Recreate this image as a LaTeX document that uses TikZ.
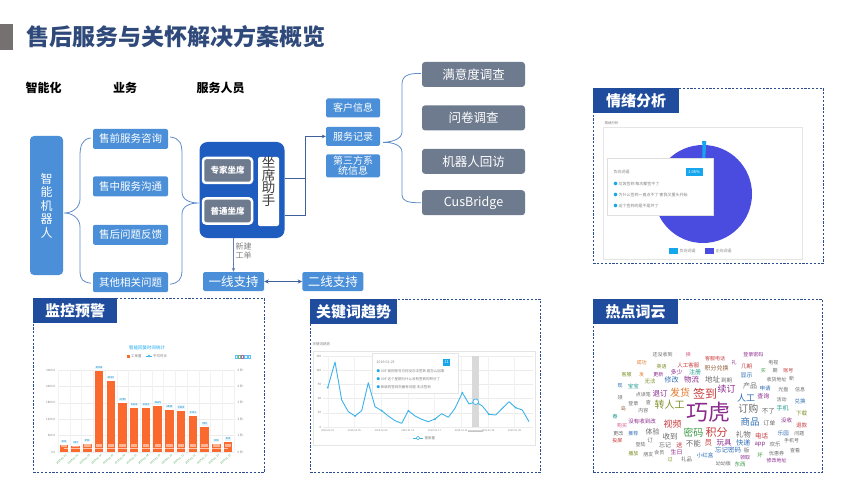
\documentclass[tikz,border=0pt]{standalone}
\usepackage{fontspec}
\setmainfont{Noto Sans CJK SC}
\usetikzlibrary{arrows.meta, positioning, calc}
\definecolor{titleBlue}{HTML}{2F4A7A}
\definecolor{markGray}{HTML}{767171}
\definecolor{bizBlue}{HTML}{4A8FD8}
\definecolor{agentBlue}{HTML}{1F5CC0}
\definecolor{slateGray}{HTML}{6E7A8E}
\definecolor{panelBlue}{HTML}{1F4C9C}
\definecolor{dashBlue}{HTML}{2D4E8E}
\definecolor{linkBlue}{HTML}{3E5F99}
\definecolor{braceBlue}{HTML}{5E8CC9}
\definecolor{barOrange}{HTML}{FA6A2E}
\definecolor{trendCyan}{HTML}{3BB2EA}
\definecolor{tagCyan}{HTML}{16A6EE}
\definecolor{pieBlue}{HTML}{4A4CDF}
\definecolor{axisGreen}{HTML}{2E9E3A}
% word cloud colours
\definecolor{wcPurple}{HTML}{8A2A8C}
\definecolor{wcRed}{HTML}{C8383A}
\definecolor{wcOlive}{HTML}{7D8F27}
\definecolor{wcBlue}{HTML}{2F6DB5}
\definecolor{wcGray}{HTML}{6A6A6A}
\definecolor{wcOrange}{HTML}{E4782A}
\definecolor{wcTeal}{HTML}{1C9A8C}
\definecolor{wcPink}{HTML}{D5568C}
\definecolor{wcBrown}{HTML}{8E5A33}
\definecolor{wcGreen}{HTML}{3C9A45}
\newcommand{\fsz}[1]{\fontsize{#1}{#1}\selectfont}

\begin{document}
\begin{tikzpicture}[
    x=1pt, y=-1pt,
    node distance=10pt,
    hdr/.style={font=\fsz{12}\bfseries, inner sep=0pt},
    robot/.style={fill=bizBlue, rounded corners=4pt, text=white, align=center,
                  font=\fontsize{12}{13.5}\selectfont,
                  minimum width=33pt, minimum height=139pt},
    bizbox/.style={fill=bizBlue, rounded corners=2pt, text=white,
                   font=\fsz{10.5}, inner sep=1pt,
                   minimum width=75pt, minimum height=20pt},
    agent/.style={fill=agentBlue, rounded corners=8pt,
                  minimum width=85pt, minimum height=96pt},
    seat/.style={fill=slateGray, draw=white, line width=2.5pt,
                 rounded corners=3pt, text=white, font=\fsz{8.5}\bfseries,
                 minimum width=49pt, minimum height=25pt, inner sep=0pt},
    asst/.style={fill=white, rounded corners=2pt,
                 minimum width=21pt, minimum height=69pt},
    info/.style={fill=bizBlue, rounded corners=1.5pt, text=white,
                 font=\fontsize{10}{9.5}\selectfont, align=center,
                 minimum width=54pt, minimum height=19pt, inner sep=0.5pt},
    survey/.style={fill=slateGray, rounded corners=3pt, text=white,
                   font=\fsz{12.5}, minimum width=103pt, minimum height=25pt},
    level/.style={fill=bizBlue, rounded corners=1.5pt, text=white,
                  font=\fsz{12.5}, inner sep=1pt,
                  minimum width=61pt, minimum height=19pt},
    brace/.style={draw=braceBlue, line width=0.8pt},
    link/.style={draw=linkBlue, line width=1pt},
    arrowd/.style={-{Stealth[length=4pt,width=3.5pt]}, link},
    panel/.style={draw=dashBlue, line width=0.8pt, dash pattern=on 2.2pt off 1.6pt,
                  anchor=north west, inner sep=0pt},
    ptitle/.style={fill=panelBlue, text=white, font=\fsz{15}\bfseries,
                   anchor=north west, minimum height=25pt, inner sep=2pt},
    tiny/.style={font=\fsz{3.5}, text=gray, inner sep=0.5pt},
    tag/.style={fill=tagCyan, text=white, font=\fsz{4}, inner sep=0.8pt},
    vlabel/.style={font=\fsz{2.8}, text=tagCyan!80!black, fill=tagCyan!12, inner sep=0.6pt},
    word/.style={inner sep=0pt},
]
\useasboundingbox (0,0) rectangle (850,478);

% title
\fill[markGray] (0,24) rectangle (13,50);
\node[anchor=west, inner sep=0pt, text=titleBlue, font=\fsz{23}\bfseries] (title) at (26,37)
  {售后服务与关怀解决方案概览};

% column headers
\node[hdr] (h1) at (43.5,88) {智能化};
\node[hdr] (h2) at (125,88) {业务};
\node[hdr] (h3) at (220.5,88) {服务人员};

% robot and business
\node[robot] (rb) at (46.5,205.5) {智\\能\\机\\器\\人};
\node[bizbox] (bz1) at (130.5,139) {售前服务咨询};
\node[bizbox, below=27pt of bz1] (bz2) {售中服务沟通};
\node[bizbox, below=28pt of bz2] (bz3) {售后问题反馈};
\node[bizbox, below=27pt of bz3] (bz4) {其他相关问题};

% agents
\node[agent] (agent) at (242,190) {};
\node[seat] (s1) at (227.5,170.5) {专家坐席};
\node[seat, below=13pt of s1] (s2) {普通坐席};
\node[asst] (asst) at (268.5,191.5) {};
\node[anchor=north, inner sep=0pt, align=center, text=black!75,
      font=\fontsize{13.5}{12.5}\selectfont] (asstT) at ($(asst.north)+(0,-0.5)$)
  {坐\\席\\助\\手};

% info and surveys
\node[info] (cust) at (353,108) {客户信息};
\node[info, below=9pt of cust] (rec) {服务记录};
\node[info, below=8pt of rec, minimum height=23pt] (third) {第三方系\\统信息};
\node[survey] (sv1) at (473.5,74.5) {满意度调查};
\node[survey, below=18pt of sv1] (sv2) {问卷调查};
\node[survey, below=18pt of sv2] (sv3) {机器人回访};
\node[survey, below=16pt of sv3] (sv4) {CusBridge};

% support levels
\node[level] (l1) at (233.5,281.5) {一线支持};
\node[level, right=38pt of l1] (l2) {二线支持};

% braces
\coordinate (tipA) at ($(rb.east)+(1,7.5)$);
\coordinate (tipB) at ($(agent.west)+(-0.5,13)$);
\coordinate (tipC) at ($(rec.east)+(3,6)$);
\draw[brace] ($(bz1.west)+(-2,-1)$) .. controls (82,139) and (80,146) .. (80,156)
  -- (80,199) .. controls (80,208) and (72,213) .. (tipA)
  .. controls (72,213) and (80,218) .. (80,227)
  -- (80,270) .. controls (80,280) and (83,282) .. ($(bz4.west)+(-2,1)$);
\draw[brace] ($(bz1.east)+(2,-2)$) .. controls (180,138) and (182,144) .. (182,154)
  -- (182,192) .. controls (182,200) and (190,203) .. (tipB)
  .. controls (190,203) and (182,206) .. (182,214)
  -- (182,270) .. controls (182,280) and (178,283) .. ($(bz4.east)+(2,2)$);
\draw[brace] ($(sv1.west)+(-1,-1)$) .. controls (408,73) and (402,76) .. (402,84)
  -- (402,132) .. controls (402,139) and (392,142) .. (tipC)
  .. controls (392,142) and (402,145) .. (402,152)
  -- (402,195) .. controls (402,201) and (408,203) .. ($(sv4.west)+(-1,0)$);

% connectors
\coordinate (jn) at ($(rec.west)+(-20,0)$);
\coordinate (a1) at ($(agent.east)+(0,-11)$);
\coordinate (a2) at ($(agent.east)+(0,26)$);
\draw[link] (a1) -- (a1 -| jn);
\draw[arrowd] (a2) -| (jn) -- (rec.west);
\draw[arrowd, draw=linkBlue!80] (l1.north |- agent.south) -- node[pos=0.38, right=0.5pt,
  font=\fontsize{8}{9}\selectfont, text=gray, align=center, inner sep=1pt] (newT) {新建\\工单} (l1.north);
\draw[{Stealth[length=4.5pt,width=4pt]}-{Stealth[length=4.5pt,width=4pt]}, draw=linkBlue, line width=1.2pt]
  (l1.east) -- (l2.west);

% panels
\node[panel, minimum width=230pt, minimum height=175pt] (pEmo) at (593,88) {};
\node[ptitle, minimum width=86pt] (tEmo) at (pEmo.north west) {情绪分析};
\node[panel, minimum width=231pt, minimum height=174pt] (pMon) at (33,298) {};
\node[ptitle, minimum width=84pt] (tMon) at (pMon.north west) {监控预警};
\node[panel, minimum width=230pt, minimum height=173pt] (pKey) at (310,299) {};
\node[ptitle, minimum width=87pt] (tKey) at (pKey.north west) {关键词趋势};
\node[panel, minimum width=229pt, minimum height=173pt] (pCloud) at (593,299) {};
\node[ptitle, minimum width=85pt] (tCloud) at (pCloud.north west) {热点词云};

% sentiment pie
\draw[gray!20] (603,127) rectangle (802,259);
\node[tiny, anchor=west] (eLab) at (604,123) {情绪分析};
\fill[pieBlue] (703,194) circle (49);
\fill[tagCyan] (703,194) -- (702.2,141) -- (706.3,141.2) -- cycle;
\node[fill=white, draw=gray!25, minimum width=106pt, minimum height=57pt, anchor=north west] (eTip) at (607,158) {};
\node[tiny, anchor=west, font=\fsz{4}] (eT0) at (613,172) {负向词语};
\node[tag, minimum width=17pt, minimum height=8pt] (eTag) at (694,172.5) {1.06\%};
\node[tiny, anchor=west, font=\fsz{4}] (eT1) at (613,184) {\textcolor{tagCyan}{●} 垃圾签到 每次都签不了};
\node[tiny, anchor=west, font=\fsz{4}] (eT2) at (613,195) {\textcolor{tagCyan}{●} 为什么签到一直点不了 害我又重头开始};
\node[tiny, anchor=west, font=\fsz{4}] (eT3) at (613,206) {\textcolor{tagCyan}{●} 这个签到的是不是坏了};
\fill[tagCyan] (669,248) rectangle (678,253.5);
\node[tiny, anchor=west, font=\fsz{4}] (eL1) at (679,250.7) {负向词语};
\fill[pieBlue] (705,248) rectangle (714,253.5);
\node[tiny, anchor=west, font=\fsz{4}] (eL2) at (715,250.7) {正向词语};

% monitoring bar chart
\node[font=\fsz{4.5}, text=tagCyan, inner sep=0pt] (bTitle) at (147,348) {智能回复时间统计};
\fill[barOrange] (127,354.5) rectangle (130,357.5);
\node[tiny, anchor=west] (bL1) at (130.5,356) {工单量};
\draw[trendCyan, line width=0.4pt] (146,356) -- (152,356);
\draw[trendCyan, line width=0.4pt, fill=white] (149,356) circle (1);
\node[tiny, anchor=west] (bL2) at (152.5,356) {平均时长};
\foreach \k/\c in {0/tagCyan, 1/wcGreen, 2/wcPurple, 3/tagCyan, 4/tagCyan}
  \draw[\c!70, line width=0.4pt] ({235+3.2*\k},355) rectangle ++(2.2,3.5);
\foreach \i in {0,...,5} {
  \draw[gray!15, line width=0.3pt] (58,{452-16.4*\i}) -- (234,{452-16.4*\i});
}
\foreach \i in {0,...,15}
  \draw[gray!10, line width=0.3pt] ({58+11.73*\i},370) -- ({58+11.73*\i},452);
\foreach \v [count=\i from 0] in {0.0, 600.0, 1200.0, 1800.0, 2400.0, 3000.0}
  \node[tiny, anchor=east, font=\fsz{3}] (bY\i) at (56,{452-16.4*\i}) {\v};
\foreach \v [count=\i from 0] in {0 秒, 1 秒, 2 秒, 3 秒, 4 秒, 5 秒}
  \node[tiny, anchor=west, font=\fsz{3}] (bR\i) at (237,{452-16.4*\i}) {\v};
\foreach \h/\v [count=\i] in {0.081/243, 0.069/207, 0.097/291, 0.988/2964, 0.870/2610,
    0.595/1785, 0.534/1602, 0.534/1602, 0.555/1665, 0.514/1542, 0.506/1518,
    0.437/1311, 0.300/900, 0.100/300, 0.117/351} {
  \fill[barOrange] ({58+11.73*\i-11.73+1.65},452) rectangle ++(8.4,{-82*\h});
  \fill[white, opacity=0.5] ({58+11.73*\i-5.87-3.2},443.5) rectangle ++(6.4,3.2);
  \node[vlabel] (bv\i) at ({58+11.73*\i-5.87},{452-82*\h-3.5}) {\v};
}
\draw[white, opacity=0.6, line width=0.4pt] (63.9,448) -- (228.1,448);
\foreach \d [count=\i] in {01,02,03,04,05,06,07,08,09,10,11,12,13,14,15}
  \node[font=\fsz{2.5}, text=axisGreen, rotate=40, anchor=north east, inner sep=0.3pt]
    (bX\i) at ({58+11.73*\i-4},454) {2019-01-\d};

% keyword trend chart
\node[tiny, anchor=west] (kLab) at (312,344) {关键词趋势};
\draw[gray!20] (313,351) rectangle (535,445);
\foreach \i in {0,...,5}
  \draw[gray!15, line width=0.3pt] (323,{427-14.2*\i}) -- (533,{427-14.2*\i});
\foreach \v [count=\i from 0] in {0,30,60,90,120,150}
  \node[tiny, anchor=east, font=\fsz{3}] (kY\i) at (322,{427-14.2*\i}) {\v};
\foreach \d [count=\i from 0] in {01,05,09,13,17,21,25,29} {
  \draw[gray!10, line width=0.3pt] ({327.7+26.7*\i},356) -- ({327.7+26.7*\i},427);
  \node[tiny, font=\fsz{2.5}] (kX\i) at ({327.7+26.7*\i},431) {2019-01-\d};
}
\fill[gray!30] (472.3,356) rectangle (479,427);
\node[fill=gray!45, text=white, font=\fsz{2.6}, inner sep=0.5pt] (kHi) at (475.6,431) {2019-01-23};
\draw[trendCyan, line width=0.9pt, line join=round] plot coordinates {
  (327.7,387.7) (335,362) (341.7,400) (348.3,411.7) (355,416) (361.7,410.7)
  (368.3,382.7) (375,406.7) (381.7,410.7) (388.3,416) (395,420.7) (401.7,423.3)
  (408.3,410.7) (415,416) (421.7,419.3) (428.3,421.7) (435,419) (441.7,413.7)
  (448.3,417.3) (455,408.3) (462.3,392.7) (469,404) (475.7,401.7) (482.3,406)
  (489,414.3) (495.7,415) (502.3,408.3) (509,401.7) (515.7,407.7) (522.3,410)
  (529,421.7)};
\foreach \p in {(327.7,387.7), (355,416), (381.7,410.7), (408.3,410.7), (435,419),
    (462.3,392.7), (489,414.3), (515.7,407.7)}
  \fill[trendCyan] \p circle (1);
\draw[trendCyan, line width=0.7pt, fill=white] (475.7,401.7) circle (2.8);
\draw[trendCyan, line width=0.5pt] (413,438) -- (423,438);
\draw[trendCyan, line width=0.5pt, fill=white] (418,438) circle (1.8);
\node[tiny, anchor=west] (kLeg) at (424,438) {搜索量};
\node[fill=white, draw=gray!20, minimum width=86pt, minimum height=40pt, anchor=north west] (kTip) at (372,353) {};
\node[tiny, anchor=west] (kT0) at (376,362) {2019-01-23};
\node[tag, minimum width=7pt, minimum height=7pt] (kTag) at (446.5,362) {11};
\node[tiny, anchor=west] (kT1) at (376,370.7) {\textcolor{tagCyan}{●} 00F 我的账号为何没办法签到 是怎么回事};
\node[tiny, anchor=west] (kT2) at (376,379) {\textcolor{tagCyan}{●} 00F 这个星期为什么没有签到的积分了};
\node[tiny, anchor=west] (kT3) at (376,387.3) {\textcolor{tagCyan}{●} 新版的签到页面有问题 无法签到};

% word cloud
\foreach \w/\px/\py/\s/\c [count=\k] in {
  还没收到/662.7/355/5/wcGray, 换/688.3/355/5/wcPink, 客服电话/715/359/5/wcRed,
  登录密码/753.3/355/5/wcPurple, 成功/641.7/362.7/5/wcOrange, 礼/734/362.7/5/wcPurple,
  电视/773.3/362.7/5/wcGray, 英语/661.7/366.7/5/wcOlive, 人工客服/688.3/365.3/5.5/wcRed,
  积分兑换/716.7/368.3/6/wcBrown, 几期/746.7/366/5.5/wcRed, 买/763.3/370.7/5/wcGreen,
  期/775/370.7/5/wcGray, 账号/788.3/370.7/5/wcRed, 客服/626.7/374.3/5/wcOlive,
  发/641.7/374.3/5/wcOrange, 更新/658.3/375/5/wcPurple, 多少/676.7/372.3/6/wcPurple,
  注册/695/372.3/6/wcTeal, 显示/746.7/375/6/wcBlue, 地址/712.7/379.3/7.5/wcGray,
  到期/726.7/380/5.5/wcGray, 收货地址/776.7/380/5/wcGray, 新/791.5/378.3/5/wcGray,
  修改/671.7/380/7/wcBlue, 物流/691.7/380/7.5/wcPurple, 无法/650/381/5.5/wcOlive,
  产品/750/385.7/7/wcGray, 现/620/386/5/wcBlue, 宝宝/633.3/386.7/5.5/wcTeal,
  申请/765/388.3/5.5/wcBlue, 光盘/783.3/389.3/5/wcGray, 信息/800/389.3/5/wcGray,
  续订/726.7/389.3/9/wcPurple, 点读笔/643.3/395/5/wcGray, 退订/660/393.3/7.5/wcPurple,
  发货/680/392.7/10/wcOrange, 签到/705/393.3/12/wcRed, 领/620/397.3/5/wcGray,
  人工/746/398.3/9/wcBlue, 查询/763.3/396.7/6/wcPurple, 活动/781.7/400/5/wcGray,
  兑换/800/401/5.5/wcBlue, 登录/633.3/403.3/5/wcGray, 查/648.3/402.3/5/wcGray,
  转人工/669.5/404.3/10/wcOlive, 巧虎/708.3/411.7/22/wcPurple, 岛/623.3/408.3/5/wcBrown,
  内容/643.3/410.3/5/wcGray, 订购/748.3/408.3/10/wcGray, 不了/768.3/411.7/6.5/wcGray,
  手机/782.7/408.3/6/wcTeal, 下载/801.7/413.3/5.5/wcOlive, 春/615/416.7/5/wcTeal,
  没有收到改/642/421/5.5/wcPurple, 视频/672.5/424/9/wcRed, 商品/750/421.7/9.5/wcBlue,
  订单/769.3/423.3/6/wcGray, 没收/786.7/420/5.5/wcPurple, 购买/622/426/5/wcPink,
  退款/801.7/425/5.5/wcRed, 更改/618.3/433.3/5/wcGray, 推荐/633.3/433.3/5/wcBlue,
  体验/652.7/432.2/7/wcGray, 收到/670/437/7.5/wcGray, 密码/693.3/432.7/10/wcGreen,
  积分/716.7/432.7/11/wcRed, 礼物/743.3/434.3/7.5/wcGray, 电话/761.7/436/6.5/wcRed,
  乐园/783.3/433.3/5.5/wcBlue, 问题/799.3/433.3/5/wcGray, 投屏/617.3/440.7/5/wcRed,
  订/650/440.7/5.5/wcGray, 忘记/665/445.3/6/wcGray, 送/679.3/444.8/6/wcRed,
  不能/693.3/443.3/7.5/wcGray, 员/708.3/442.7/7.5/wcRed, 玩具/724/442.7/7.5/wcPurple,
  快递/743.3/443.3/7/wcBlue, app/760/445/6/wcPurple, 欢乐/775/444/5.5/wcGray,
  手机号/791.7/440.7/5/wcGray, 登陆/640.7/445/5/wcGray, 会员/659.3/453/5/wcGray,
  生日/676.7/452/6/wcPurple, 忘记密码/728/450.4/6.5/wcBlue, 版/746.7/450.7/5.5/wcGray,
  坏/760/455/5.5/wcGreen, 优惠券/776.7/454/5/wcGray, 查看/795/450.7/5/wcGray,
  播放/633.3/453.3/5/wcOlive, 朋友/648.3/455/5/wcGray, 过/670/459.8/5/wcOlive,
  礼品/686.7/459.5/5.5/wcGray, 小红盒/705/455/5.5/wcBlue, 领取/745/457.7/5/wcPurple,
  修改地址/776.7/460.7/5/wcPurple, 幼幼版/723.3/463.3/5/wcGray, 东西/740/464/5.5/wcGreen}
  \node[word, font=\fsz{\s}, text=\c] (wd\k) at (\px,\py) {\w};
\end{tikzpicture}
\end{document}
